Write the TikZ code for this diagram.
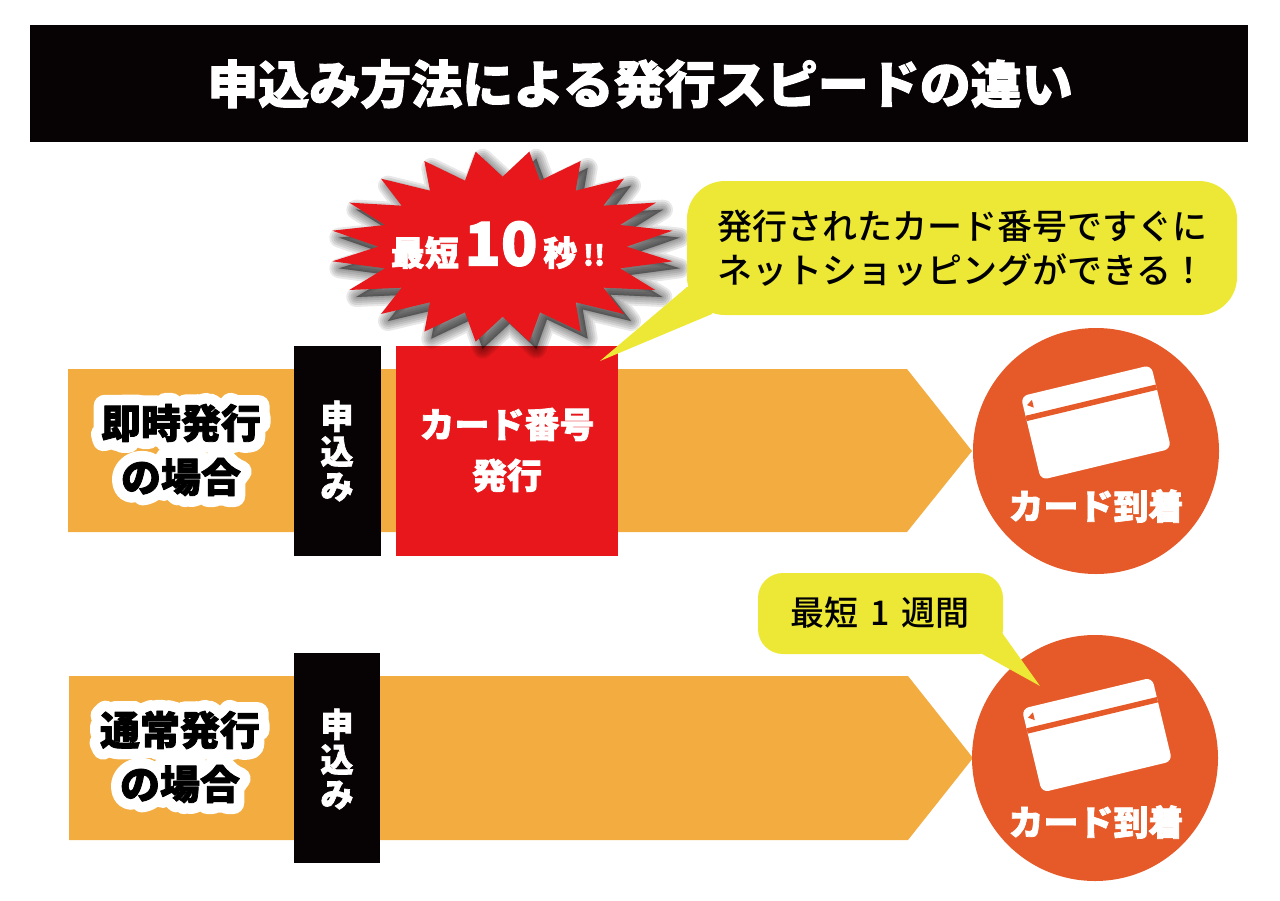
\documentclass[tikz,border=0pt]{standalone}
\usepackage{fontspec}
\usetikzlibrary{positioning}
\newfontfamily\jpfont{Noto Sans CJK JP}[UprightFont=* Black,FakeBold=2]
\newfontfamily\jpmedium{Noto Sans CJK JP}[UprightFont=* Medium]
\definecolor{barcolor}{HTML}{F2AC40}
\definecolor{redcolor}{HTML}{E8171B}
\definecolor{roundcolor}{HTML}{E55A28}
\definecolor{bubblecolor}{HTML}{EDE836}
\definecolor{inkcolor}{HTML}{070203}
\newcommand{\fsize}[1]{\fontsize{#1}{#1}\selectfont}
% white rim round black letters
\newcommand{\rimtext}[1]{\special{pdf:code 1 j 1 J}\rlap{\color{white}\addfontfeature{FakeBold=55}#1}#1}
\def\burstpath{(467,35) -- (548,110) -- (628,35) -- (660,122) -- (782,63) -- (767,152)
-- (912,116) -- (850,197) -- (1008,188) -- (900,255) -- (1058,272) -- (920,320)
-- (1058,364) -- (900,385) -- (1006,450) -- (850,443) -- (912,522) -- (767,487)
-- (782,575) -- (660,517) -- (628,605) -- (548,530) -- (467,605) -- (435,517)
-- (313,575) -- (330,487) -- (183,522) -- (245,443) -- (88,450) -- (195,385)
-- (37,364) -- (175,320) -- (37,272) -- (195,255) -- (88,188) -- (245,197)
-- (183,116) -- (330,152) -- (313,63) -- (435,122) -- cycle}
\tikzset{
cardpic/.pic={
\fill[white,rounded corners=7] (-67,-43) rectangle (67,43);
\fill[roundcolor] (-67,-23) rectangle (67,-17.5);
\fill[roundcolor] (-63,-33) -- (-57,-37) -- (-57,-29) -- cycle;
}
}
\begin{document}
\begin{tikzpicture}[x=1pt,y=-1pt,
whitebold/.style={text=white,font=\jpfont\fsize{#1},align=center,inner sep=0},
inkbold/.style={text=black,font=\jpfont\fsize{40},align=center,inner sep=0},
talk/.style={text=black,font=\jpmedium\fsize{#1},align=left,inner sep=0},
bar/.style={fill=barcolor},
inkbox/.style={fill=inkcolor},
round/.style={fill=roundcolor}]
\useasboundingbox (0,0) rectangle (1280,900);
% title
\fill[inkbox] (30,25) rectangle (1248,142);
\node[whitebold=51] (title) at (640,84) {申込み方法による発行スピードの違い};
% first row
\fill[bar] (68,369) -- (907,369) -- (972,451) -- (907,532) -- (68,532) -- cycle;
\fill[inkbox] (294,346) rectangle (381,556);
\fill[redcolor] (396,346) rectangle (618,556);
\node[inkbold] (firstcase) at (181,450) {\rimtext{即時発行}\\[14pt]\rimtext{の場合}};
\node[whitebold=33] (firstapply) at (337,451) {申\\[2pt]込\\[2pt]み};
\node[whitebold=35] (number) at (507,450) {カード番号\\[16pt]発行};
% burst
\begin{scope}[shift={(320,140)},x=0.3333pt,y=-0.3333pt]
\foreach \w in {20,16,12,8,4,1}
\fill[black,opacity=0.09,xshift=7pt,yshift=-7pt,draw=black,line width=\w pt,line join=round] \burstpath;
\fill[redcolor] \burstpath;
\end{scope}
\node[text=white,font=\jpfont\fsize{34},inner sep=0] (burst) at (498,245) {最短\,{\fsize{60}10}\,秒\,{\fsize{28}!!}};
% first bubble
\fill[bubblecolor,rounded corners=38] (687,181) rectangle (1237,315);
\fill[bubblecolor] (687,287) -- (600,361) -- (712,314) -- (720,280) -- cycle;
\node[talk=35,anchor=west] (firsttalk) at (717,226) {発行されたカード番号ですぐに};
\node[talk=35,anchor=west] (secondtalk) at (717,270) {ネットショッピングができる！};
% first round
\fill[round] (1096,451) circle (123);
\pic at (1096,422.5) [rotate=13.5] {cardpic};
\node[whitebold=35] (firstcard) at (1096,506) {カード到着};
% second row
\fill[bar] (69,676) -- (908,676) -- (973,758) -- (908,840) -- (69,840) -- cycle;
\fill[inkbox] (294,653) rectangle (380,863);
\node[inkbold] (secondcase) at (180,757) {\rimtext{通常発行}\\[14pt]\rimtext{の場合}};
\node[whitebold=33] (secondapply) at (337,759) {申\\[2pt]込\\[2pt]み};
% second round
\fill[round] (1095,758) circle (123);
\pic at (1097,735) [rotate=13.5] {cardpic};
\node[whitebold=35] (secondcard) at (1096,822) {カード到着};
% second bubble
\fill[bubblecolor,rounded corners=25] (758,573) rectangle (1003,654);
\fill[bubblecolor] (975,650) -- (1040,686) -- (1000,630) -- cycle;
\node[talk=34] (weektalk) at (880,613) {最短\,\,1\,\,週間};
\end{tikzpicture}
\end{document}
